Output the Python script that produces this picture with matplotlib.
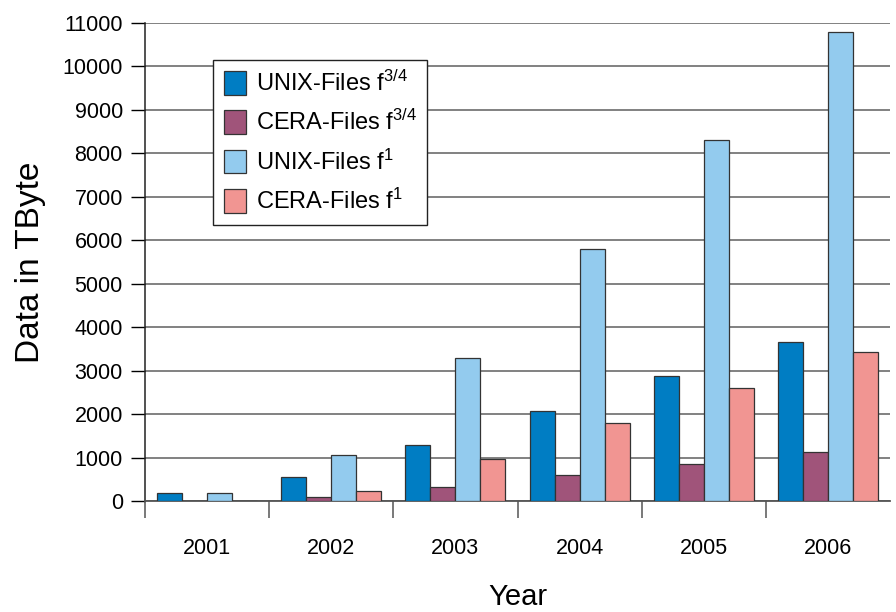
import matplotlib
matplotlib.use("Agg")
import matplotlib.pyplot as plt
import numpy as np

years = ["2001", "2002", "2003", "2004", "2005", "2006"]
unix_34 = [190, 555, 1280, 2070, 2870, 3650]
cera_34 = [0, 100, 330, 590, 860, 1120]
unix_f1 = [190, 1050, 3300, 5810, 8300, 10800]
cera_f1 = [0, 220, 960, 1790, 2610, 3440]
labels = ["UNIX-Files f$^{3/4}$", "CERA-Files f$^{3/4}$",
          "UNIX-Files f$^{1}$", "CERA-Files f$^{1}$"]
colors = ["#007DC3", "#A0547A", "#93CBEE", "#F19592"]
yticks = list(range(0, 11001, 1000))

plt.rcParams["font.family"] = ["Liberation Sans", "DejaVu Sans"]
plt.rcParams["mathtext.fontset"] = "custom"
plt.rcParams["mathtext.rm"] = "Liberation Sans"
plt.rcParams["mathtext.default"] = "regular"

fig = plt.figure(figsize=(8.96, 6.12), dpi=100)
ax = fig.add_axes([145/896, 1 - 501/612, (890-145)/896, (501-23)/612])

x = np.arange(len(years))
w = 25/124
series = [unix_34, cera_34, unix_f1, cera_f1]
for k, (vals, col, lab) in enumerate(zip(series, colors, labels)):
    ax.bar(x + (k - 1.5) * w, vals, width=w, color=col, edgecolor="#333333",
           linewidth=0.9, label=lab, zorder=3)

ax.set_xlim(-0.5, len(years) - 0.5)
ax.set_ylim(0, 11000)
ax.set_yticks(yticks)
ax.yaxis.grid(True, color="#777777", linewidth=1.3, zorder=0)
ax.set_axisbelow(True)

ax.set_xticks(np.arange(-0.5, len(years) - 0.5, 1.0))
ax.set_xticklabels([])
ax.set_xticks(x, minor=True)
ax.set_xticklabels(years, minor=True)
ax.tick_params(axis="x", which="major", direction="out", length=12, width=1.1, color="#555555")
ax.tick_params(axis="x", which="minor", length=0, pad=27, labelsize=15.5)
ax.tick_params(axis="y", direction="out", length=10, width=1.0, labelsize=15.5, pad=6)

for s in ["top", "right"]:
    ax.spines[s].set_visible(False)
ax.spines["left"].set_color("#222222")
ax.spines["left"].set_linewidth(1.1)
ax.spines["bottom"].set_color("#555555")
ax.spines["bottom"].set_linewidth(1.3)

ax.set_ylabel("Data in TByte", fontsize=24, labelpad=12)
ax.set_xlabel("Year", fontsize=21, labelpad=17)

leg = ax.legend(loc="upper left", bbox_to_anchor=((213-145)/745, (501-60)/478),
                borderaxespad=0, fontsize=17, handlelength=0.95, handleheight=1.15,
                labelspacing=0.6, handletextpad=0.4, borderpad=0.45,
                fancybox=False, framealpha=1, edgecolor="#222222")
leg.get_frame().set_linewidth(1.0)

fig.savefig("out.png", dpi=100)
